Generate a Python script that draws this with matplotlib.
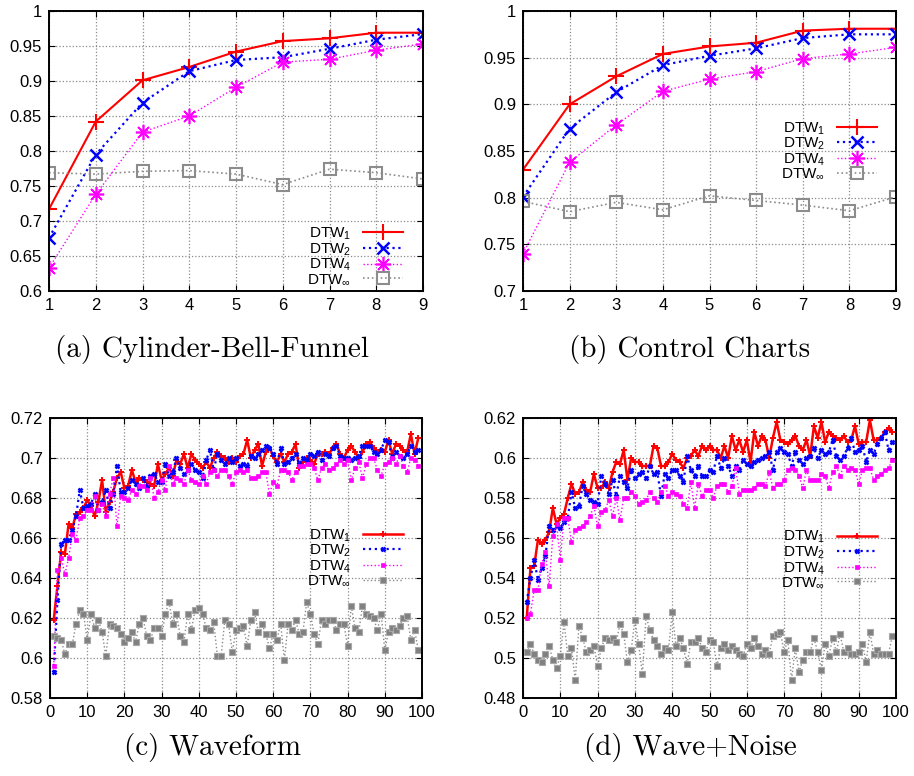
import matplotlib
matplotlib.use('Agg')
import matplotlib.pyplot as plt
from matplotlib.ticker import FuncFormatter, MultipleLocator

SANS = 'Liberation Sans'
plt.rcParams['font.family'] = [SANS, 'DejaVu Sans']
plt.rcParams['mathtext.fontset'] = 'custom'
plt.rcParams['mathtext.rm'] = SANS
plt.rcParams['mathtext.it'] = SANS + ':italic'
plt.rcParams['mathtext.bf'] = SANS + ':bold'

series_names = ['DTW$_1$', 'DTW$_2$', 'DTW$_4$', 'DTW$_\\infty$']

# ---------------- (a) Cylinder-Bell-Funnel ----------------
x_small = [1, 2, 3, 4, 5, 6, 7, 8, 9]
cbf_dtw1 = [0.717, 0.842, 0.901, 0.920, 0.942, 0.957, 0.961, 0.969, 0.969]
cbf_dtw2 = [0.676, 0.795, 0.869, 0.914, 0.930, 0.934, 0.946, 0.959, 0.967]
cbf_dtw4 = [0.633, 0.738, 0.827, 0.850, 0.891, 0.927, 0.931, 0.944, 0.953]
cbf_dtwinf = [0.769, 0.767, 0.771, 0.772, 0.767, 0.752, 0.774, 0.769, 0.760]

# ---------------- (b) Control Charts ----------------
cc_dtw1 = [0.830, 0.900, 0.930, 0.954, 0.962, 0.966, 0.979, 0.981, 0.981]
cc_dtw2 = [0.801, 0.874, 0.913, 0.942, 0.952, 0.960, 0.971, 0.975, 0.975]
cc_dtw4 = [0.740, 0.838, 0.878, 0.914, 0.927, 0.935, 0.949, 0.954, 0.961]
cc_dtwinf = [0.796, 0.785, 0.795, 0.787, 0.802, 0.797, 0.792, 0.786, 0.801]

# ---------------- (c) Waveform ----------------
x_large = list(range(1, 100))
wf_dtw1 = [0.619, 0.636, 0.653, 0.652, 0.667, 0.665, 0.672, 0.673, 0.675, 0.679,
           0.676, 0.671, 0.678, 0.689, 0.673, 0.678, 0.683, 0.690, 0.693, 0.685,
           0.686, 0.694, 0.688, 0.690, 0.689, 0.688, 0.687, 0.686, 0.697, 0.689,
           0.692, 0.695, 0.691, 0.699, 0.697, 0.702, 0.695, 0.702, 0.699, 0.697,
           0.695, 0.698, 0.695, 0.700, 0.703, 0.701, 0.700, 0.698, 0.700, 0.698,
           0.701, 0.702, 0.709, 0.700, 0.704, 0.707, 0.696, 0.703, 0.705, 0.701,
           0.698, 0.702, 0.698, 0.702, 0.703, 0.707, 0.695, 0.698, 0.700, 0.699,
           0.697, 0.702, 0.702, 0.703, 0.702, 0.705, 0.707, 0.702, 0.700, 0.704,
           0.706, 0.703, 0.700, 0.703, 0.707, 0.708, 0.705, 0.703, 0.704, 0.703,
           0.709, 0.702, 0.707, 0.706, 0.704, 0.703, 0.712, 0.702, 0.710]
wf_dtw2 = [0.593, 0.629, 0.657, 0.659, 0.659, 0.664, 0.671, 0.684, 0.675, 0.676,
           0.677, 0.682, 0.674, 0.678, 0.684, 0.675, 0.682, 0.696, 0.683, 0.683,
           0.685, 0.689, 0.687, 0.685, 0.690, 0.686, 0.691, 0.692, 0.688, 0.688,
           0.697, 0.691, 0.693, 0.700, 0.695, 0.692, 0.694, 0.697, 0.694, 0.693,
           0.690, 0.699, 0.704, 0.694, 0.702, 0.699, 0.697, 0.700, 0.698, 0.700,
           0.696, 0.697, 0.696, 0.701, 0.700, 0.702, 0.704, 0.706, 0.705, 0.702,
           0.697, 0.705, 0.697, 0.698, 0.700, 0.702, 0.697, 0.700, 0.699, 0.702,
           0.701, 0.703, 0.699, 0.702, 0.701, 0.705, 0.706, 0.701, 0.700, 0.700,
           0.699, 0.700, 0.701, 0.706, 0.706, 0.706, 0.703, 0.702, 0.704, 0.709,
           0.708, 0.700, 0.703, 0.701, 0.700, 0.702, 0.706, 0.703, 0.704]
wf_dtw4 = [0.596, 0.644, 0.650, 0.642, 0.650, 0.662, 0.659, 0.670, 0.671, 0.674,
           0.674, 0.681, 0.674, 0.677, 0.671, 0.682, 0.690, 0.666, 0.681, 0.680,
           0.679, 0.684, 0.682, 0.686, 0.686, 0.684, 0.690, 0.680, 0.683, 0.689,
           0.684, 0.696, 0.687, 0.690, 0.689, 0.687, 0.694, 0.689, 0.688, 0.687,
           0.691, 0.687, 0.693, 0.694, 0.691, 0.694, 0.694, 0.691, 0.687, 0.693,
           0.694, 0.693, 0.694, 0.690, 0.690, 0.691, 0.693, 0.693, 0.682, 0.688,
           0.686, 0.694, 0.694, 0.693, 0.689, 0.693, 0.696, 0.696, 0.697, 0.697,
           0.695, 0.689, 0.695, 0.697, 0.694, 0.695, 0.697, 0.699, 0.697, 0.699,
           0.689, 0.695, 0.698, 0.690, 0.697, 0.700, 0.700, 0.694, 0.691, 0.697,
           0.698, 0.700, 0.697, 0.701, 0.696, 0.693, 0.700, 0.699, 0.696]
wf_dtwinf = [0.611, 0.610, 0.609, 0.602, 0.607, 0.607, 0.617, 0.624, 0.622, 0.609,
             0.622, 0.615, 0.619, 0.613, 0.601, 0.617, 0.616, 0.615, 0.612, 0.608,
             0.610, 0.613, 0.608, 0.617, 0.620, 0.611, 0.609, 0.615, 0.615, 0.611,
             0.622, 0.628, 0.617, 0.622, 0.611, 0.608, 0.622, 0.614, 0.624, 0.625,
             0.622, 0.615, 0.614, 0.618, 0.601, 0.601, 0.619, 0.617, 0.603, 0.614,
             0.615, 0.616, 0.606, 0.619, 0.623, 0.613, 0.617, 0.612, 0.605, 0.612,
             0.609, 0.617, 0.599, 0.617, 0.614, 0.619, 0.612, 0.613, 0.628, 0.622,
             0.612, 0.607, 0.619, 0.617, 0.619, 0.619, 0.614, 0.617, 0.617, 0.606,
             0.626, 0.615, 0.613, 0.626, 0.622, 0.621, 0.620, 0.614, 0.622, 0.604,
             0.613, 0.615, 0.614, 0.616, 0.620, 0.621, 0.609, 0.614, 0.604]

# ---------------- (d) Wave+Noise ----------------
wn_dtw1 = [0.520, 0.545, 0.546, 0.559, 0.557, 0.559, 0.563, 0.575, 0.567, 0.570,
           0.572, 0.580, 0.587, 0.582, 0.583, 0.588, 0.584, 0.583, 0.592, 0.585,
           0.585, 0.588, 0.585, 0.593, 0.598, 0.597, 0.604, 0.589, 0.600, 0.598,
           0.598, 0.596, 0.596, 0.596, 0.606, 0.605, 0.596, 0.596, 0.598, 0.602,
           0.599, 0.598, 0.595, 0.600, 0.601, 0.604, 0.601, 0.606, 0.604, 0.606,
           0.604, 0.604, 0.600, 0.606, 0.600, 0.611, 0.604, 0.609, 0.603, 0.609,
           0.598, 0.613, 0.606, 0.611, 0.609, 0.600, 0.610, 0.618, 0.609, 0.608,
           0.607, 0.609, 0.611, 0.606, 0.604, 0.609, 0.601, 0.616, 0.610, 0.618,
           0.608, 0.613, 0.611, 0.610, 0.609, 0.611, 0.608, 0.609, 0.616, 0.607,
           0.608, 0.608, 0.619, 0.609, 0.609, 0.610, 0.613, 0.615, 0.613]
wn_dtw2 = [0.528, 0.540, 0.549, 0.539, 0.545, 0.551, 0.566, 0.564, 0.566, 0.565,
           0.568, 0.570, 0.583, 0.575, 0.576, 0.586, 0.582, 0.579, 0.578, 0.577,
           0.591, 0.587, 0.582, 0.589, 0.581, 0.591, 0.588, 0.585, 0.594, 0.590,
           0.592, 0.593, 0.590, 0.596, 0.592, 0.593, 0.581, 0.592, 0.590, 0.594,
           0.594, 0.591, 0.588, 0.601, 0.594, 0.591, 0.596, 0.591, 0.591, 0.594,
           0.593, 0.601, 0.595, 0.600, 0.596, 0.591, 0.596, 0.594, 0.599, 0.597,
           0.596, 0.598, 0.599, 0.600, 0.601, 0.603, 0.594, 0.603, 0.605, 0.603,
           0.602, 0.596, 0.603, 0.599, 0.597, 0.600, 0.601, 0.605, 0.600, 0.604,
           0.602, 0.603, 0.609, 0.601, 0.599, 0.601, 0.605, 0.610, 0.603, 0.604,
           0.606, 0.598, 0.604, 0.602, 0.607, 0.610, 0.613, 0.604, 0.608]
wn_dtw4 = [0.520, 0.522, 0.534, 0.534, 0.547, 0.553, 0.536, 0.561, 0.567, 0.549,
           0.570, 0.570, 0.558, 0.564, 0.565, 0.566, 0.568, 0.571, 0.576, 0.566,
           0.573, 0.574, 0.579, 0.571, 0.580, 0.569, 0.580, 0.580, 0.583, 0.581,
           0.577, 0.578, 0.579, 0.583, 0.580, 0.578, 0.583, 0.586, 0.581, 0.583,
           0.582, 0.581, 0.577, 0.575, 0.588, 0.575, 0.587, 0.581, 0.584, 0.584,
           0.580, 0.586, 0.587, 0.587, 0.583, 0.586, 0.595, 0.582, 0.584, 0.584,
           0.584, 0.585, 0.587, 0.587, 0.586, 0.593, 0.585, 0.587, 0.587, 0.589,
           0.594, 0.595, 0.594, 0.591, 0.585, 0.594, 0.589, 0.589, 0.589, 0.592,
           0.591, 0.585, 0.593, 0.596, 0.591, 0.596, 0.594, 0.595, 0.594, 0.587,
           0.594, 0.595, 0.595, 0.589, 0.591, 0.592, 0.594, 0.595, 0.599]
wn_dtwinf = [0.503, 0.507, 0.502, 0.499, 0.498, 0.502, 0.506, 0.499, 0.495, 0.501,
             0.518, 0.501, 0.505, 0.489, 0.516, 0.510, 0.503, 0.504, 0.506, 0.496,
             0.505, 0.510, 0.509, 0.510, 0.508, 0.517, 0.512, 0.498, 0.504, 0.519,
             0.507, 0.492, 0.521, 0.514, 0.509, 0.506, 0.502, 0.505, 0.504, 0.523,
             0.506, 0.510, 0.505, 0.497, 0.508, 0.508, 0.510, 0.505, 0.503, 0.509,
             0.508, 0.496, 0.505, 0.507, 0.504, 0.506, 0.504, 0.502, 0.501, 0.507,
             0.505, 0.510, 0.506, 0.502, 0.504, 0.502, 0.511, 0.512, 0.513, 0.503,
             0.509, 0.489, 0.505, 0.493, 0.499, 0.503, 0.503, 0.510, 0.503, 0.494,
             0.507, 0.501, 0.510, 0.503, 0.512, 0.503, 0.505, 0.502, 0.502, 0.503,
             0.507, 0.498, 0.513, 0.502, 0.504, 0.502, 0.502, 0.502, 0.511]

captions = ['(a) Cylinder-Bell-Funnel', '(b) Control Charts', '(c) Waveform', '(d) Wave+Noise']

RED, BLUE, MAG, GRAY = '#ff0000', '#0000ff', '#ff00ff', '#8c8c8c'

top_styles = [
    dict(color=RED, ls='-', lw=1.5, marker='+', ms=11, mew=1.5),
    dict(color=BLUE, ls=':', lw=1.6, marker='x', ms=9, mew=1.8),
    dict(color=MAG, ls=':', lw=1.0, marker=(8, 2, 0), ms=11, mew=1.2),
    dict(color=GRAY, ls=':', lw=1.2, marker='s', ms=9, mew=1.5, mfc='none'),
]
bottom_styles = [
    dict(color=RED, ls='-', lw=1.8, marker='+', ms=4, mew=1.4),
    dict(color=BLUE, ls=':', lw=1.6, marker='x', ms=3.5, mew=1.8),
    dict(color=MAG, ls=':', lw=1.0, marker='s', ms=3.5, mew=0.5),
    dict(color='#8a8a8a', ls=':', lw=1.0, marker='s', ms=4.5, mew=0.8,
         mfc='#808080', mec='#a8a8a8'),
]

TICK_FS = 12
LEG_FS = 11

fig = plt.figure(figsize=(9.14, 7.76), dpi=100)
W, H = 914.0, 776.0


def make_axes(l, r, t, b):
    return fig.add_axes([l / W, 1 - b / H, (r - l) / W, (b - t) / H])


def fmt(v, p):
    return f'{round(v, 4):g}'


panels = [
    (make_axes(49, 423, 11, 291), x_small, [cbf_dtw1, cbf_dtw2, cbf_dtw4, cbf_dtwinf],
     top_styles, (1, 9), (0.6, 1.0), 1, 0.05, (0.9465, 0.233)),
    (make_axes(523, 896, 11, 291), x_small, [cc_dtw1, cc_dtw2, cc_dtw4, cc_dtwinf],
     top_styles, (1, 9), (0.7, 1.0), 1, 0.05, (0.949, 0.61)),
    (make_axes(50, 422, 418, 698), x_large, [wf_dtw1, wf_dtw2, wf_dtw4, wf_dtwinf],
     bottom_styles, (0, 100), (0.58, 0.72), 10, 0.02, (0.949, 0.61)),
    (make_axes(523, 896, 418, 698), x_large, [wn_dtw1, wn_dtw2, wn_dtw4, wn_dtwinf],
     bottom_styles, (0, 100), (0.48, 0.62), 10, 0.02, (0.949, 0.604)),
]

for ax, xs, ys, styles, xl, yl, xstep, ystep, lpos in panels:
    for y, st, name in zip(ys, styles, series_names):
        ax.plot(xs, y, label=name, **st)
    ax.set_xlim(*xl)
    ax.set_ylim(*yl)
    ax.xaxis.set_major_locator(MultipleLocator(xstep))
    ax.yaxis.set_major_locator(MultipleLocator(ystep))
    ax.yaxis.set_major_formatter(FuncFormatter(fmt))
    ax.grid(True, color='#8a8a8a', ls=':', lw=0.9)
    ax.set_axisbelow(True)
    ax.tick_params(direction='in', top=True, right=True, length=4, width=0.8,
                   labelsize=TICK_FS, pad=5)
    for s in ax.spines.values():
        s.set_linewidth(1.4)
    ax.legend(loc='upper right', bbox_to_anchor=lpos, frameon=False,
              markerfirst=False, fontsize=LEG_FS, handlelength=2.6,
              handletextpad=0.8, labelspacing=-0.05, borderpad=0,
              borderaxespad=0, numpoints=1)

cap_pos = [(212, 350), (690, 350), (212, 748), (690, 748)]
for (cx, cy), txt in zip(cap_pos, captions):
    fig.text(cx / W, 1 - cy / H, txt, ha='center', va='center',
             fontfamily='cmr10', fontsize=21)

fig.savefig('out.png', dpi=100)
